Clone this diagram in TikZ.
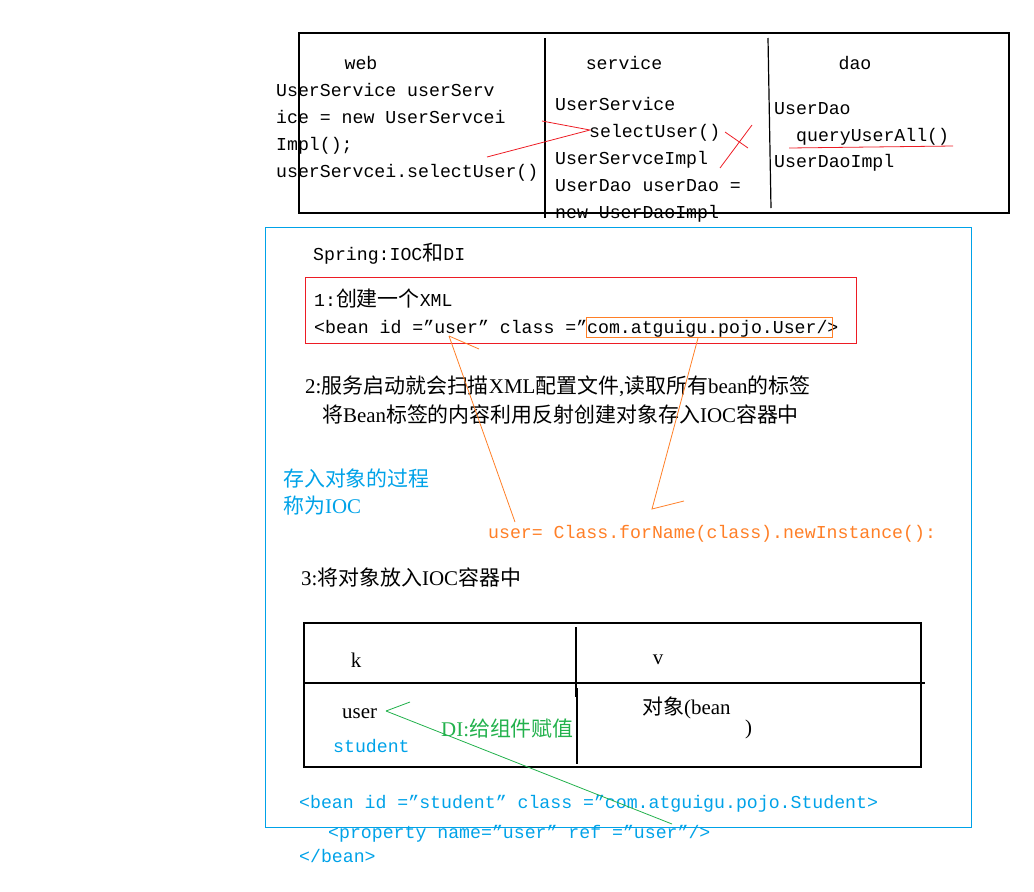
\documentclass[tikz,border=0pt]{standalone}
\usepackage{fontspec}
\setmainfont{Liberation Mono}
\newfontfamily\cjk[Scale=1.15]{Noto Sans CJK SC}
\newfontfamily\serif[Scale=1.15]{Liberation Serif}
\newcommand{\zh}[1]{{\cjk #1}}
\newcommand{\latn}[1]{{\serif #1}}
\definecolor{inkred}{RGB}{237,28,36}
\definecolor{inkorange}{RGB}{255,127,39}
\definecolor{inkblue}{RGB}{0,162,232}
\definecolor{inkgreen}{RGB}{34,177,76}
\tikzset{>=latex}
\tikzset{
  txt/.style = {anchor=base west, inner sep=0pt, font=\fontsize{18.2}{22}\selectfont},
  ttl/.style = {anchor=base, inner sep=0pt, font=\fontsize{18.2}{22}\selectfont},
  frame/.style = {draw=black, line width=1.2pt},
  redink/.style = {draw=inkred, line width=0.8pt},
  orangeink/.style = {draw=inkorange, line width=0.8pt},
  greenink/.style = {draw=inkgreen, line width=0.8pt}
}
\begin{document}
\begin{tikzpicture}[x=1pt,y=-1pt]
  \pgfmathsetmacro{\zeile}{27};
  \useasboundingbox (0,0) rectangle (1034,892);
  % three layers
  \draw[frame] (299,33) rectangle (1009,213);
  \draw[frame] (545,38) -- (545,218);
  \draw[frame] (768,38) -- (771,208);
  \node[ttl] (web) at (361,69) {web};
  \node[ttl] (service) at (624,69) {service};
  \node[ttl] (dao) at (855,69) {dao};
  \node[txt] (webA) at (276,96) {UserService userServ};
  \node[txt] (webB) at (276,{96+\zeile}) {ice = new UserServcei};
  \node[txt] (webC) at (276,{96+2*\zeile}) {Impl();};
  \node[txt] (webD) at (276,{96+3*\zeile}) {userServcei.selectUser()};
  \node[txt] (serviceA) at (555,110) {UserService};
  \node[txt] (serviceB) at (589,{110+\zeile}) {selectUser()};
  \node[txt] (serviceC) at (555,{110+2*\zeile}) {UserServceImpl};
  \node[txt] (serviceD) at (555,{110+3*\zeile}) {UserDao userDao =};
  \node[txt] (serviceE) at (555,{110+4*\zeile}) {new UserDaoImpl};
  \node[txt] (daoA) at (774,114) {UserDao};
  \node[txt] (daoB) at (796,141) {queryUserAll()};
  \node[txt] (daoC) at (774,167) {UserDaoImpl};
  % red marks
  \coordinate (callhead) at (590,130);
  \draw[redink] (542,121) -- (callhead) -- (487,157);
  \draw[redink] (725,132) -- (748,148);
  \draw[redink] (752,125) -- (720,168);
  \draw[redink] (789,148) -- (871,147) -- (953,146);
  % spring frame
  \draw[draw=inkblue, line width=1pt] (265,227) rectangle (971,827);
  \node[txt] (spring) at (313,260) {Spring:IOC\zh{和}DI};
  \draw[redink, line width=1pt] (305,277) rectangle (856,343);
  \node[txt] (stepone) at (314,306) {1:\zh{创建一个}XML};
  \node[txt] (beanuser) at (314,333) {<bean id ="user" class ="com.atguigu.pojo.User/>};
  \draw[orangeink] (586,317) rectangle (832,337);
  \node[txt] (steptwo) at (305,393) {\latn{2:}\zh{服务启动就会扫描}\latn{XML}\zh{配置文件}\latn{,}\zh{读取所有}\latn{bean}\zh{的标签}};
  \node[txt] (steptwob) at (322,422) {\zh{将}\latn{Bean}\zh{标签的内容利用反射创建对象存入}\latn{IOC}\zh{容器中}};
  \node[txt, text=inkblue] (iocA) at (283,486) {\zh{存入对象的过程}};
  \node[txt, text=inkblue] (iocB) at (283,513) {\zh{称为}\latn{IOC}};
  \node[txt, text=inkorange] (reflect) at (488,538) {user= Class.forName(class).newInstance():};
  % orange strokes
  \coordinate (userid) at (449,336);
  \coordinate (classref) at (698,338);
  \coordinate (reflecthead) at (652,509);
  \draw[orangeink] (userid) -- (479,349);
  \draw[orangeink] (userid) -- (515,522);
  \draw[orangeink] (classref) -- (reflecthead) -- (684,501);
  \node[txt] (stepthree) at (301,585) {\latn{3:}\zh{将对象放入}\latn{IOC}\zh{容器中}};
  % container table
  \draw[frame] (304,623) rectangle (921,767);
  \draw[frame] (304,683) -- (925,683);
  \draw[frame] (576,627) -- (576,697);
  \draw[frame] (577,688) -- (577,764);
  \node[ttl, font=\serif\fontsize{18.2}{22}\selectfont] (key) at (356,667) {k};
  \node[ttl, font=\serif\fontsize{18.2}{22}\selectfont] (value) at (658,664) {v};
  \node[txt] (keyuser) at (342,718) {\latn{user}};
  \node[txt, text=inkblue] (keystudent) at (333,752) {student};
  \node[txt, text=inkgreen] (di) at (441,736) {\latn{DI:}\zh{给组件赋值}};
  \node[txt] (bean) at (642,714) {\zh{对象}\latn{(bean}};
  \node[txt] (paren) at (745,734) {\latn{)}};
  % student bean
  \node[txt, text=inkblue] (beanstudent) at (299,808) {<bean id ="student" class ="com.atguigu.pojo.Student>};
  \node[txt, text=inkblue] (property) at (328,838) {<property name="user" ref ="user"/>};
  \node[txt, text=inkblue] (beanend) at (299,862) {</bean>};
  % green stroke
  \coordinate (userkey) at (386,711);
  \draw[greenink] (userkey) -- (410,702);
  \draw[greenink] (userkey) -- (672,824);
\end{tikzpicture}
\end{document}
